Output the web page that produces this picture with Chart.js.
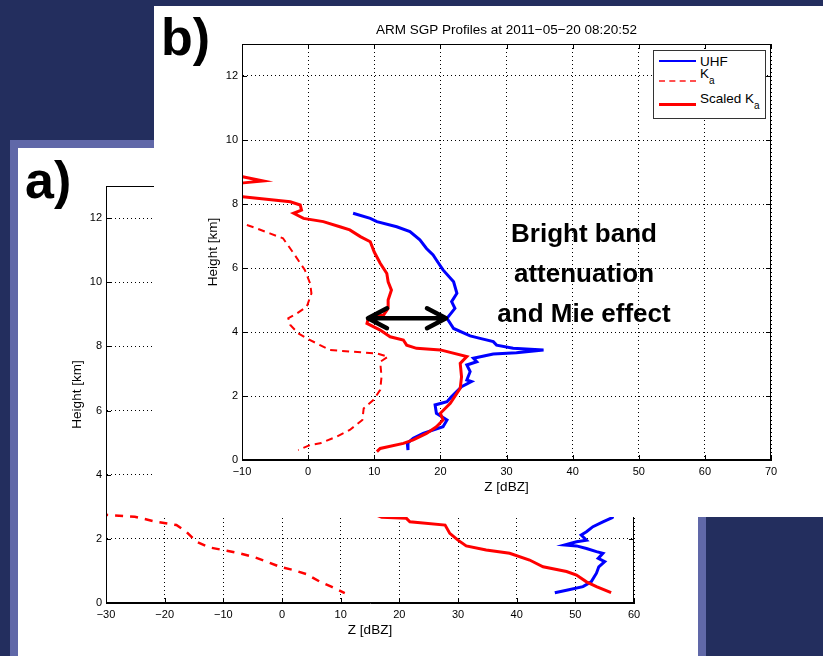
<!DOCTYPE html>
<html>
<head>
<meta charset="utf-8">
<script src="https://cdn.jsdelivr.net/npm/chart.js@4/dist/chart.umd.min.js"></script>
<style>
  body { margin: 0; width: 823px; height: 656px; background: #232e5e; position: relative; overflow: hidden;
         font-family: "Liberation Sans", Arial, sans-serif; }
  .abs { position: absolute; }
  #barTop { left: 10px; top: 140px; width: 145px; height: 8px; background: #6068a8; }
  #barLeft { left: 10px; top: 140px; width: 8px; height: 516px; background: #6068a8; }
  #barRight { left: 698px; top: 517px; width: 8px; height: 139px; background: #6068a8; }
  #panelA { left: 18px; top: 148px; width: 680px; height: 508px; background: #fff; }
  #panelB { left: 154px; top: 6px; width: 669px; height: 511px; background: #fff; }
  .tag { font-weight: bold; font-size: 52px; line-height: 1; color: #000; }
  #legend { left: 653px; top: 50px; width: 111px; height: 67px; border: 1px solid #333; background: #fff; }
  .lg { position: absolute; font-size: 13.5px; line-height: 1; color: #000; white-space: nowrap; }
  .sub { font-size: 10px; position: relative; top: 6px; }
  .ln { position: absolute; width: 37px; height: 0; }
  #note { left: 474px; top: 213px; width: 220px; text-align: center; font-weight: bold; font-size: 26px;
          line-height: 40px; color: #000; }
</style>
</head>
<body>
<div id="barTop" class="abs"></div>
<div id="barLeft" class="abs"></div>
<div id="barRight" class="abs"></div>
<div id="panelA" class="abs"><canvas id="chartA" width="680" height="508"></canvas></div>
<div class="abs tag" style="left:25px;top:154px">a)</div>
<div id="panelB" class="abs"><canvas id="chartB" width="669" height="511"></canvas></div>
<div class="abs tag" style="left:161px;top:11px">b)</div>
<div id="legend" class="abs">
  <div class="ln" style="left:5px;top:9px;border-top:2px solid #0000ff"></div>
  <div class="lg" style="left:46px;top:4px">UHF</div>
  <div class="ln" style="left:5px;top:29px;border-top:2px dashed #ff5050"></div>
  <div class="lg" style="left:46px;top:16px">K<span class="sub">a</span></div>
  <div class="ln" style="left:5px;top:52px;border-top:3px solid #ff0000"></div>
  <div class="lg" style="left:46px;top:41px">Scaled K<span class="sub">a</span></div>
</div>
<div id="note" class="abs">Bright band<br>attenuation<br>and Mie effect</div>

<script>
// ---- panel b: ARM SGP profiles, 2011-05-20 08:20:52 ----
const bUhfZ = [6.8, 9.4, 10.4, 13.4, 15.4, 16.9, 17.9, 18.9, 19.4, 20.4, 22.0, 22.5, 21.7, 22.2, 21.0, 22.0, 24.5, 26.0, 28.0, 28.5,
               31.0, 35.6, 31.5, 28.0, 25.0, 25.5, 24.0, 24.5, 24.0, 24.7, 23.2, 21.7, 21.0, 19.2, 19.4, 21.0, 20.4, 17.4, 15.9, 15.0, 15.1];
const bUhfH = [7.71, 7.55, 7.45, 7.29, 7.14, 6.88, 6.61, 6.41, 6.25, 5.94, 5.57, 5.21, 4.95, 4.74, 4.43, 4.11, 3.88, 3.80, 3.70, 3.59,
               3.49, 3.44, 3.35, 3.31, 3.18, 3.07, 2.97, 2.76, 2.50, 2.45, 2.29, 1.98, 1.82, 1.72, 1.46, 1.25, 1.04, 0.83, 0.68, 0.52, 0.31];

const bKaZ = [-11, -9.8, -7.8, -5.8, -3.8, -2.2, -0.5, 0.3, 0.5, -0.2, -1.7, -3.0, -2.7, -1.5, -0.2, 1.8, 3.3, 6.3, 10.4, 12.1,
              10.9, 11.1, 10.9, 9.9, 8.4, 8.2, 6.3, 4.3, 1.8, 0.3, -1.5];
const bKaH = [7.45, 7.38, 7.24, 7.08, 6.93, 6.46, 5.94, 5.52, 5.21, 4.79, 4.58, 4.43, 4.22, 3.96, 3.80, 3.59, 3.44, 3.39, 3.33, 3.23,
              3.07, 2.60, 2.19, 1.88, 1.61, 1.25, 0.94, 0.73, 0.52, 0.47, 0.31];

const bScaledZ = [-12, -9.9, -6.8, -9.8, -12, -12, -9.9, -6.3, -2.7, -1.2, -1.0, -2.2, -0.7, 2.3, 4.8, 6.3, 7.9, 9.4, 10.0, 10.9,
                  11.9, 12.1, 12.6, 12.1, 12.1, 11.4, 9.1, 8.9, 10.9, 12.4, 14.4, 14.9, 16.4, 20.0, 24.0, 23.0, 23.2, 23.0, 21.5, 20.0,
                  20.4, 19.4, 17.9, 15.9, 14.4, 10.9, 10.4];
const bScaledH = [8.92, 8.85, 8.72, 8.66, 8.60, 8.26, 8.23, 8.15, 8.07, 7.97, 7.81, 7.71, 7.55, 7.45, 7.29, 7.19, 6.98, 6.82, 6.50, 6.15,
                  5.83, 5.57, 5.31, 5.00, 4.74, 4.53, 4.43, 4.27, 4.06, 3.85, 3.75, 3.59, 3.49, 3.44, 3.23, 3.02, 2.60, 2.24, 1.77, 1.46,
                  1.25, 1.04, 0.83, 0.63, 0.52, 0.36, 0.26];

// ---- panel a: only the lowest part is visible under panel b ----
const aUhfZ = [56.5, 56.3, 54.7, 53.0, 51.9, 51.0, 51.9, 50.2, 48.2, 50.2, 51.9, 53.6, 54.7, 53.9, 55.0, 54.0, 53.6, 52.7, 51.3, 48.5, 46.5];
const aUhfH = [2.75, 2.66, 2.53, 2.38, 2.22, 2.12, 1.96, 1.91, 1.81, 1.78, 1.70, 1.60, 1.55, 1.39, 1.29, 1.13, 0.93, 0.66, 0.51, 0.40, 0.32];

const aKaZ = [-31, -25.1, -21.4, -18.0, -16.3, -14.6, -12.3, -9.4, -7.2, -4.9, -2.6, -0.4, 1.9, 4.2, 6.5, 8.5, 10.7];
const aKaH = [2.76, 2.69, 2.53, 2.43, 2.22, 1.91, 1.73, 1.63, 1.55, 1.44, 1.29, 1.13, 1.03, 0.90, 0.66, 0.50, 0.31];

const aScaledZ = [16.0, 17.0, 21.2, 21.8, 27.8, 28.6, 30.0, 31.4, 34.8, 38.8, 42.2, 44.5, 48.5, 50.2, 51.9, 53.6, 56.1];
const aScaledH = [2.75, 2.67, 2.64, 2.53, 2.43, 2.17, 1.96, 1.78, 1.65, 1.55, 1.34, 1.13, 0.98, 0.87, 0.66, 0.51, 0.32];

// axis ranges
const aZRange = [-30, 60];
const bZRange = [-10, 70];
const hRange = [0, 13];

// bright band arrow (dBZ from, dBZ to, height km)
const arrowZ = [8.9, 21.0];
const arrowH = 4.43;

const FONT = '"Liberation Sans", Arial, sans-serif';

function pts(zs, hs) {
    return zs.map((z, i) => ({ x: z, y: hs[i] }));
}

function minus(v) {
    return String(v).replace('-', '\u2212');
}

// MATLAB style box with inward ticks
const boxPlugin = {
    id: 'box',
    afterDraw(chart) {
        const { ctx, chartArea: a, scales: { x, y } } = chart;
        ctx.save();
        ctx.strokeStyle = '#000';
        ctx.lineWidth = 1;
        ctx.strokeRect(a.left + 0.5, a.top + 0.5, a.right - a.left - 1, a.bottom - a.top - 1);
        ctx.beginPath();
        x.ticks.forEach(t => {
            const px = Math.round(x.getPixelForValue(t.value)) + 0.5;
            ctx.moveTo(px, a.bottom); ctx.lineTo(px, a.bottom - 5);
            ctx.moveTo(px, a.top); ctx.lineTo(px, a.top + 5);
        });
        y.ticks.forEach(t => {
            const py = Math.round(y.getPixelForValue(t.value)) + 0.5;
            ctx.moveTo(a.left, py); ctx.lineTo(a.left + 5, py);
            ctx.moveTo(a.right, py); ctx.lineTo(a.right - 5, py);
        });
        ctx.stroke();
        ctx.restore();
    }
};

const arrowPlugin = {
    id: 'arrow',
    afterDatasetsDraw(chart) {
        const { ctx, scales: { x, y } } = chart;
        const x1 = x.getPixelForValue(arrowZ[0]);
        const x2 = x.getPixelForValue(arrowZ[1]);
        const py = y.getPixelForValue(arrowH);
        ctx.save();
        ctx.strokeStyle = '#000';
        ctx.lineWidth = 4.5;
        ctx.lineCap = 'round';
        ctx.lineJoin = 'round';
        ctx.beginPath();
        ctx.moveTo(x1 + 2, py); ctx.lineTo(x2 - 2, py);
        ctx.moveTo(x1 + 20, py - 10); ctx.lineTo(x1 + 1, py); ctx.lineTo(x1 + 20, py + 10);
        ctx.moveTo(x2 - 20, py - 10); ctx.lineTo(x2 - 1, py); ctx.lineTo(x2 - 20, py + 10);
        ctx.stroke();
        ctx.restore();
    }
};

function axes(zRange, bottomPad) {
    const tickFont = { family: FONT, size: 11 };
    const titleFont = { family: FONT, size: 13.5 };
    return {
        x: {
            type: 'linear',
            min: zRange[0],
            max: zRange[1],
            ticks: { stepSize: 10, color: '#000', font: tickFont, padding: 5, includeBounds: false, callback: minus },
            grid: { color: '#000', lineWidth: 1, drawTicks: false },
            border: { display: true, color: '#000', width: 1, dash: [1, 3] },
            title: { display: true, text: 'Z [dBZ]', color: '#000', font: titleFont, padding: 0 },
            afterFit: s => { s.height = 35; }
        },
        y: {
            type: 'linear',
            min: hRange[0],
            max: hRange[1],
            ticks: { stepSize: 2, color: '#000', font: tickFont, padding: 4, includeBounds: false },
            grid: { color: '#000', lineWidth: 1, drawTicks: false },
            border: { display: true, color: '#000', width: 1, dash: [1, 3] },
            title: { display: true, text: 'Height [km]', color: '#000', font: titleFont, padding: 0 },
            afterFit: s => { s.width = 37; }
        }
    };
}

function line(data, color, width, dash) {
    return {
        data: data,
        showLine: true,
        borderColor: color,
        borderWidth: width,
        borderDash: dash || [],
        pointRadius: 0,
        fill: false,
        tension: 0,
        clip: 0
    };
}

new Chart(document.getElementById('chartA'), {
    type: 'scatter',
    data: {
        datasets: [
            line(pts(aKaZ, aKaH), '#ff0000', 2.5, [8, 7]),
            line(pts(aScaledZ, aScaledH), '#ff0000', 3),
            line(pts(aUhfZ, aUhfH), '#0000ff', 3)
        ]
    },
    options: {
        responsive: false,
        animation: false,
        layout: { padding: { left: 51, top: 38, right: 64, bottom: 18 } },
        plugins: { legend: { display: false }, tooltip: { enabled: false } },
        scales: axes(aZRange)
    },
    plugins: [boxPlugin]
});

new Chart(document.getElementById('chartB'), {
    type: 'scatter',
    data: {
        datasets: [
            line(pts(bKaZ, bKaH), '#ff0000', 2, [7, 5]),
            line(pts(bScaledZ, bScaledH), '#ff0000', 3),
            line(pts(bUhfZ, bUhfH), '#0000ff', 3)
        ]
    },
    options: {
        responsive: false,
        animation: false,
        layout: { padding: { left: 51, top: 16, right: 52, bottom: 22 } },
        plugins: {
            legend: { display: false },
            tooltip: { enabled: false },
            title: {
                display: true,
                text: 'ARM SGP Profiles at 2011\u221205\u221220 08:20:52',
                color: '#000',
                fullSize: false,
                font: { family: FONT, size: 13.5, weight: 'normal' },
                padding: { top: 0, bottom: 5.8 }
            }
        },
        scales: axes(bZRange)
    },
    plugins: [boxPlugin, arrowPlugin]
});
</script>
</body>
</html>
